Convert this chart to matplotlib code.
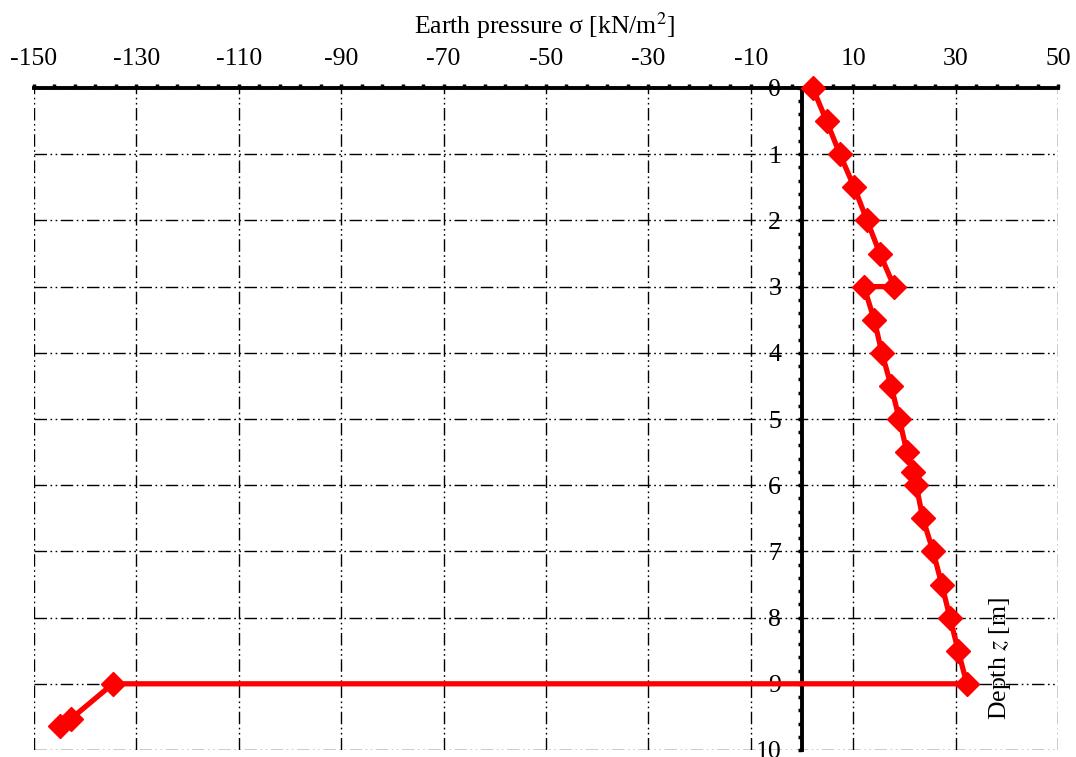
import numpy as np
import matplotlib
matplotlib.use('Agg')
import matplotlib.pyplot as plt
from matplotlib.ticker import FixedLocator

plt.rcParams['font.family'] = ['Liberation Serif', 'DejaVu Serif']
plt.rcParams['mathtext.fontset'] = 'stix'

# earth pressure distribution
sigma = [2.1, 4.8, 7.4, 10.2, 12.7, 15.2, 18.0, 12.1, 14.1, 15.6, 17.4, 19.0,
         20.5, 21.7, 22.3, 23.6, 25.6, 27.3, 28.9, 30.5, 32.2, -134.6, -142.8, -144.9]
depth = [0.0, 0.5, 1.0, 1.5, 2.0, 2.5, 3.0, 3.0, 3.5, 4.0, 4.5, 5.0,
         5.5, 5.8, 6.0, 6.5, 7.0, 7.5, 8.0, 8.5, 9.0, 9.0, 9.53, 9.64]

x_major = np.arange(-150, 51, 20)
x_minor = np.arange(-150, 51, 4)
y_major = np.arange(0, 11, 1)
y_minor = np.arange(0, 10.01, 0.2)

fs = 18.5

fig = plt.figure(figsize=(10.76, 7.57), dpi=100)
ax = fig.add_axes([34/1076, 1 - 750/757, 1024/1076, 662/757])

grid_dash = (0, (9, 2.5, 1.2, 2.5, 1.2, 2.5))
ax.grid(True, which='major', color='black', linewidth=1.0, linestyle=grid_dash, zorder=1)

ax.plot(sigma, depth, color='red', linewidth=3.8, marker='D', markersize=12,
        zorder=5, clip_on=False)

ax.set_xlim(-150, 50)
ax.set_ylim(10, 0)

# x axis on top, y axis through sigma = 0
ax.xaxis.tick_top()
ax.spines['top'].set_linewidth(2.8)
ax.spines['left'].set_position(('data', 0))
ax.spines['left'].set_linewidth(2.8)
ax.spines['right'].set_visible(False)
ax.spines['bottom'].set_visible(False)
for sp in ax.spines.values():
    sp.set_zorder(4)

ax.xaxis.set_major_locator(FixedLocator(x_major))
ax.xaxis.set_minor_locator(FixedLocator(x_minor))
ax.yaxis.set_major_locator(FixedLocator(y_major))
ax.yaxis.set_minor_locator(FixedLocator(y_minor))
ax.set_xticklabels([str(v) for v in x_major])
ax.set_yticklabels([str(v) for v in y_major])

ax.tick_params(axis='x', which='both', direction='out', length=3, width=2.5,
               labelsize=fs, pad=10, top=True, bottom=False)
ax.tick_params(axis='y', which='both', direction='out', length=3, width=2.5,
               labelsize=fs, pad=12)

ax.set_xlabel('Earth pressure σ [kN/m$^2$]', fontsize=fs, va='center')
ax.xaxis.set_label_position('top')
ax.xaxis.set_label_coords(0.499, 1 + (88 - 34) / 662)

ax.set_ylabel('Depth $z$ [m]', fontsize=fs, va='center', ha='center')
ax.yaxis.set_label_coords((1000 - 34) / 1024, 1 - (658 - 88) / 662)

fig.savefig('out.png', dpi=100)
